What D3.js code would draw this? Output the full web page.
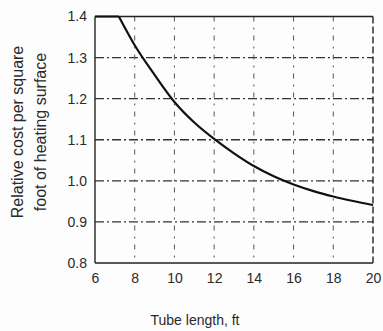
<!DOCTYPE html>
<html>
<head>
<meta charset="utf-8">
<script src="https://cdn.jsdelivr.net/npm/d3@7"></script>
<style>
  body { margin: 0; background: #fff; }
  text { font-family: "Liberation Sans", Arial, sans-serif; fill: #2a2a2a; }
</style>
</head>
<body>
<script>
var w = 383;
var h = 331;

// tube length (ft) and relative cost
var tubeLength = [6, 7.2, 8, 9, 10, 11, 12, 13, 14, 15, 16, 17, 18, 19, 20];
var relCost = [1.4, 1.4, 1.33, 1.258, 1.192, 1.142, 1.102, 1.067, 1.036, 1.011, 0.991, 0.975, 0.962, 0.951, 0.941];

var xTicks = [6, 8, 10, 12, 14, 16, 18, 20];
var yTicks = [0.8, 0.9, 1.0, 1.1, 1.2, 1.3, 1.4];

var pLeft = 95, pRight = 373, pTop = 16.5, pBottom = 263;

var x = d3.scaleLinear().domain([6, 20]).range([pLeft, pRight]);
var y = d3.scaleLinear().domain([0.8, 1.4]).range([pBottom, pTop]);

var svg = d3.select('body')
  .append('svg')
  .attr('width', w)
  .attr('height', h);

svg.append('rect')
  .attr('width', w)
  .attr('height', h)
  .attr('fill', '#fdfdfd');

// grid
svg.append('g')
  .selectAll('line')
  .data(yTicks.slice(1, -1))
  .enter()
  .append('line')
  .attr('x1', pLeft)
  .attr('x2', pRight)
  .attr('y1', function (d) { return y(d); })
  .attr('y2', function (d) { return y(d); })
  .attr('stroke', '#333')
  .attr('stroke-width', 1.3)
  .attr('stroke-dasharray', '9,3,2,3');

svg.append('g')
  .selectAll('line')
  .data(xTicks.slice(1, -1))
  .enter()
  .append('line')
  .attr('x1', function (d) { return x(d); })
  .attr('x2', function (d) { return x(d); })
  .attr('y1', pTop)
  .attr('y2', pBottom)
  .attr('stroke', '#555')
  .attr('stroke-width', 1)
  .attr('stroke-dasharray', '5,6,2,6');

// frame
var frame = svg.append('g').attr('fill', 'none').attr('stroke', '#222').attr('stroke-width', 1.4);
frame.append('line').attr('x1', pLeft).attr('x2', pRight).attr('y1', pTop).attr('y2', pTop);
frame.append('line').attr('x1', pLeft).attr('x2', pRight).attr('y1', pBottom).attr('y2', pBottom);
frame.append('line').attr('x1', pLeft).attr('x2', pLeft).attr('y1', pTop).attr('y2', pBottom);
frame.append('line').attr('x1', pRight).attr('x2', pRight).attr('y1', pTop).attr('y2', pBottom)
  .attr('stroke-dasharray', '7,3');

// axes
var xAxis = d3.axisBottom(x).tickValues(xTicks).tickSize(0).tickPadding(10)
  .tickFormat(d3.format('d'));
svg.append('g')
  .attr('transform', 'translate(0,' + pBottom + ')')
  .call(xAxis)
  .call(function (g) { g.select('.domain').remove(); })
  .selectAll('text')
  .attr('font-size', 14)
  .attr('fill', '#2a2a2a');

var yAxis = d3.axisLeft(y).tickValues(yTicks).tickSize(0).tickPadding(8)
  .tickFormat(d3.format('.1f'));
svg.append('g')
  .attr('transform', 'translate(' + pLeft + ',0)')
  .call(yAxis)
  .call(function (g) { g.select('.domain').remove(); })
  .selectAll('text')
  .attr('font-size', 14)
  .attr('fill', '#2a2a2a');

// curve: flat run up to the knee, then the smooth fall
var pts = tubeLength.map(function (t, i) { return [t, relCost[i]]; });

var flat = d3.line()
  .x(function (d) { return x(d[0]); })
  .y(function (d) { return y(d[1]); });

var fall = d3.line()
  .x(function (d) { return x(d[0]); })
  .y(function (d) { return y(d[1]); })
  .curve(d3.curveMonotoneX);

svg.append('path')
  .attr('d', flat(pts.slice(0, 2)) + fall(pts.slice(1)))
  .attr('fill', 'none')
  .attr('stroke', '#111')
  .attr('stroke-width', 2.2)
  .attr('stroke-linejoin', 'round');

// labels
svg.append('text')
  .attr('x', 195)
  .attr('y', 325)
  .attr('text-anchor', 'middle')
  .attr('font-size', 14)
  .text('Tube length, ft');

var yl = svg.append('text')
  .attr('transform', 'translate(0,132) rotate(-90)')
  .attr('text-anchor', 'middle')
  .attr('font-size', 16);
yl.append('tspan').attr('x', 0).attr('y', 23).text('Relative cost per square');
yl.append('tspan').attr('x', 0).attr('y', 46).text('foot of heating surface');
</script>
</body>
</html>
